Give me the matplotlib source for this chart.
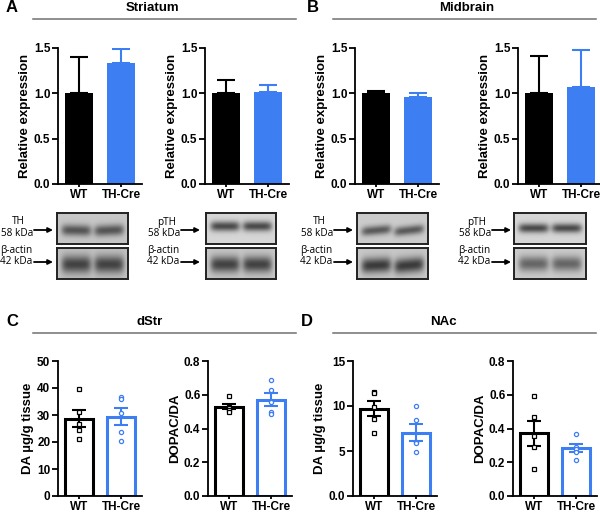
import numpy as np
import matplotlib
matplotlib.use('Agg')
import matplotlib.pyplot as plt

plt.rcParams['font.family'] = ['Liberation Sans', 'DejaVu Sans']
BLUE = '#3d7ef2'
W, H = 600, 512

# ---------- data ----------
groups = ['WT', 'TH-Cre']
# western blot quantification: mean and upper error
wb_mean = {'A_TH': [1.00, 1.33], 'A_pTH': [1.00, 1.02], 'B_TH': [1.00, 0.96], 'B_pTH': [1.00, 1.07]}
wb_err = {'A_TH': [0.40, 0.16], 'A_pTH': [0.15, 0.07], 'B_TH': [0.03, 0.04], 'B_pTH': [0.41, 0.41]}
# HPLC individual animals
c_da_wt = [39.8, 31.0, 26.6, 24.5, 21.2]
c_da_cre = [36.5, 35.8, 30.7, 23.7, 20.4]
c_ratio_wt = [0.59, 0.53, 0.52, 0.51, 0.50]
c_ratio_cre = [0.69, 0.626, 0.556, 0.497, 0.485]
d_da_wt = [11.6, 11.5, 9.9, 8.6, 7.0]
d_da_cre = [9.97, 8.4, 6.0, 5.9, 4.9]
d_ratio_wt = [0.59, 0.468, 0.357, 0.29, 0.158]
d_ratio_cre = [0.368, 0.29, 0.28, 0.263, 0.216]

fig = plt.figure(figsize=(6, 5.12), dpi=100)
ov = fig.add_axes([0, 0, 1, 1])
ov.set_xlim(0, W); ov.set_ylim(H, 0); ov.axis('off')


def rect(x0, y0, x1, y1):
    return [x0 / W, 1 - y1 / H, (x1 - x0) / W, (y1 - y0) / H]


def style(ax, ylim, yticks, ylabels, ylabel):
    ax.set_xlim(-0.5, 1.5)
    ax.set_ylim(*ylim)
    ax.set_yticks(yticks)
    ax.set_yticklabels(ylabels, fontweight='bold', fontsize=8.5)
    ax.set_xticks([0, 1])
    ax.set_xticklabels(groups, fontweight='bold', fontsize=8.5)
    for s in ['top', 'right']:
        ax.spines[s].set_visible(False)
    for s in ['left', 'bottom']:
        ax.spines[s].set_linewidth(1.3)
    ax.tick_params(width=1.3, length=4, pad=1.5)
    ax.tick_params(axis='x', length=2.5, pad=0.8)
    ax.set_ylabel(ylabel, fontweight='bold', fontsize=9.5, labelpad=2)
    ax.patch.set_alpha(0)


# ---------- headers ----------
for letter, lx, title, tx, y, x0, x1 in [('A', 12, 'Striatum', 152, 8, 33, 296),
                                         ('B', 313, 'Midbrain', 467, 8, 333, 596),
                                         ('C', 12, 'dStr', 150, 322, 33, 296),
                                         ('D', 307, 'NAc', 443, 322, 333, 596)]:
    ov.text(lx, y, letter, fontsize=12, fontweight='bold', ha='center', va='center')
    ov.text(tx, y, title, fontsize=9.5, fontweight='bold', ha='center', va='center')
    ov.plot([x0, x1], [y + 10.5, y + 10.5], color='#707070', lw=1.1)

# ---------- top bar charts ----------
top_axes = [('A_TH', 58), ('A_pTH', 205), ('B_TH', 355), ('B_pTH', 518)]
for key, xl in top_axes:
    ax = fig.add_axes(rect(xl, 48, xl + 84, 184))
    for i, c in enumerate(['black', BLUE]):
        ax.bar(i, wb_mean[key][i], width=0.68, color=c, zorder=2)
        ax.errorbar(i, wb_mean[key][i], yerr=[[0], [wb_err[key][i]]], color=c,
                    capsize=6.5, elinewidth=1.5, capthick=1.5, zorder=1)
    style(ax, (0, 1.5), [0, 0.5, 1.0, 1.5], ['0.0', '0.5', '1.0', '1.5'], 'Relative expression')


# ---------- western blots ----------
def blot(x0, y0, x1, y1, centre, sigma, dark, bg, tilt=(0, 0)):
    h, w = 60, 140
    yy, xx = np.mgrid[0:h, 0:w]
    yy, xx = yy / h, xx / w
    img = np.full((h, w), bg)
    for lc, t in zip([0.27, 0.73], tilt):
        lane_prof = np.exp(-((xx - lc) / 0.21) ** 6)
        yc = centre + t * (xx - lc)
        img -= dark * lane_prof * np.exp(-((yy - yc) / sigma) ** 2)
    ax = fig.add_axes(rect(x0, y0, x1, y1))
    ax.imshow(img, cmap='gray', vmin=0, vmax=1, aspect='auto', interpolation='bilinear')
    ax.set_xticks([]); ax.set_yticks([])
    for s in ax.spines.values():
        s.set_linewidth(1.4)
        s.set_color('#222222')


def blot_label(cx, ax0, ax1, top):
    kw = dict(family=['Open Sans', 'DejaVu Sans'], fontsize=7.2, va='center')
    ov.text(cx, 222, top, ha='center', **kw)
    ov.text(ax0 - 1, 234, '58 kDa', ha='right', **kw)
    ov.text(ax0 - 2, 250, 'β-actin', ha='right', **kw)
    ov.text(ax0 - 2, 262, '42 kDa', ha='right', **kw)
    for y in [230, 262]:
        ov.annotate('', xy=(ax1, y), xytext=(ax0, y),
                    arrowprops=dict(arrowstyle='-|>', color='black', lw=1.3, mutation_scale=7,
                                    shrinkA=0, shrinkB=0))


blot(57, 213, 128, 244, 0.55, 0.18, 0.45, 0.78, tilt=(0.05, -0.1))
blot(57, 248, 128, 279, 0.52, 0.28, 0.50, 0.76)
blot_label(18, 34, 53, 'TH')
blot(206, 213, 276, 244, 0.42, 0.16, 0.55, 0.84)
blot(206, 248, 276, 279, 0.52, 0.26, 0.52, 0.78)
blot_label(167, 181, 200, 'pTH')
blot(357, 213, 428, 244, 0.55, 0.15, 0.45, 0.80, tilt=(-0.2, -0.25))
blot(357, 248, 428, 279, 0.55, 0.24, 0.55, 0.78, tilt=(-0.1, -0.2))
blot_label(319, 334, 353, 'TH')
blot(514, 213, 586, 244, 0.48, 0.15, 0.55, 0.84)
blot(514, 248, 586, 279, 0.50, 0.24, 0.40, 0.80)
blot_label(477, 492, 511, 'pTH')

# ---------- bottom HPLC charts ----------
bottom = [(58, c_da_wt, c_da_cre, (0, 50), [0, 10, 20, 30, 40, 50], ['0', '10', '20', '30', '40', '50'], 'DA µg/g tissue'),
          (208, c_ratio_wt, c_ratio_cre, (0, 0.8), [0, 0.2, 0.4, 0.6, 0.8], ['0.0', '0.2', '0.4', '0.6', '0.8'], 'DOPAC/DA'),
          (353, d_da_wt, d_da_cre, (0, 15), [0, 5, 10, 15], ['0.0', '5', '10', '15'], 'DA µg/g tissue'),
          (513, d_ratio_wt, d_ratio_cre, (0, 0.8), [0, 0.2, 0.4, 0.6, 0.8], ['0.0', '0.2', '0.4', '0.6', '0.8'], 'DOPAC/DA')]
for xl, wt, cre, ylim, yt, ytl, ylab in bottom:
    ax = fig.add_axes(rect(xl, 361, xl + 84, 496))
    for i, (vals, c, m) in enumerate([(wt, 'black', 's'), (cre, BLUE, 'o')]):
        v = np.array(vals)
        mean, sem = v.mean(), v.std(ddof=1) / np.sqrt(len(v))
        ax.bar(i, mean, width=0.66, facecolor='white', edgecolor=c, lw=2.2, zorder=1)
        ax.errorbar(i, mean, yerr=sem, color=c, capsize=5, elinewidth=1.5, capthick=1.5, zorder=3)
        ax.plot(np.full(len(v), i), v, m, ms=3, mfc='white', mec=c, mew=0.9, zorder=4, clip_on=False)
    style(ax, ylim, yt, ytl, ylab)

fig.savefig('out.png', dpi=100)
